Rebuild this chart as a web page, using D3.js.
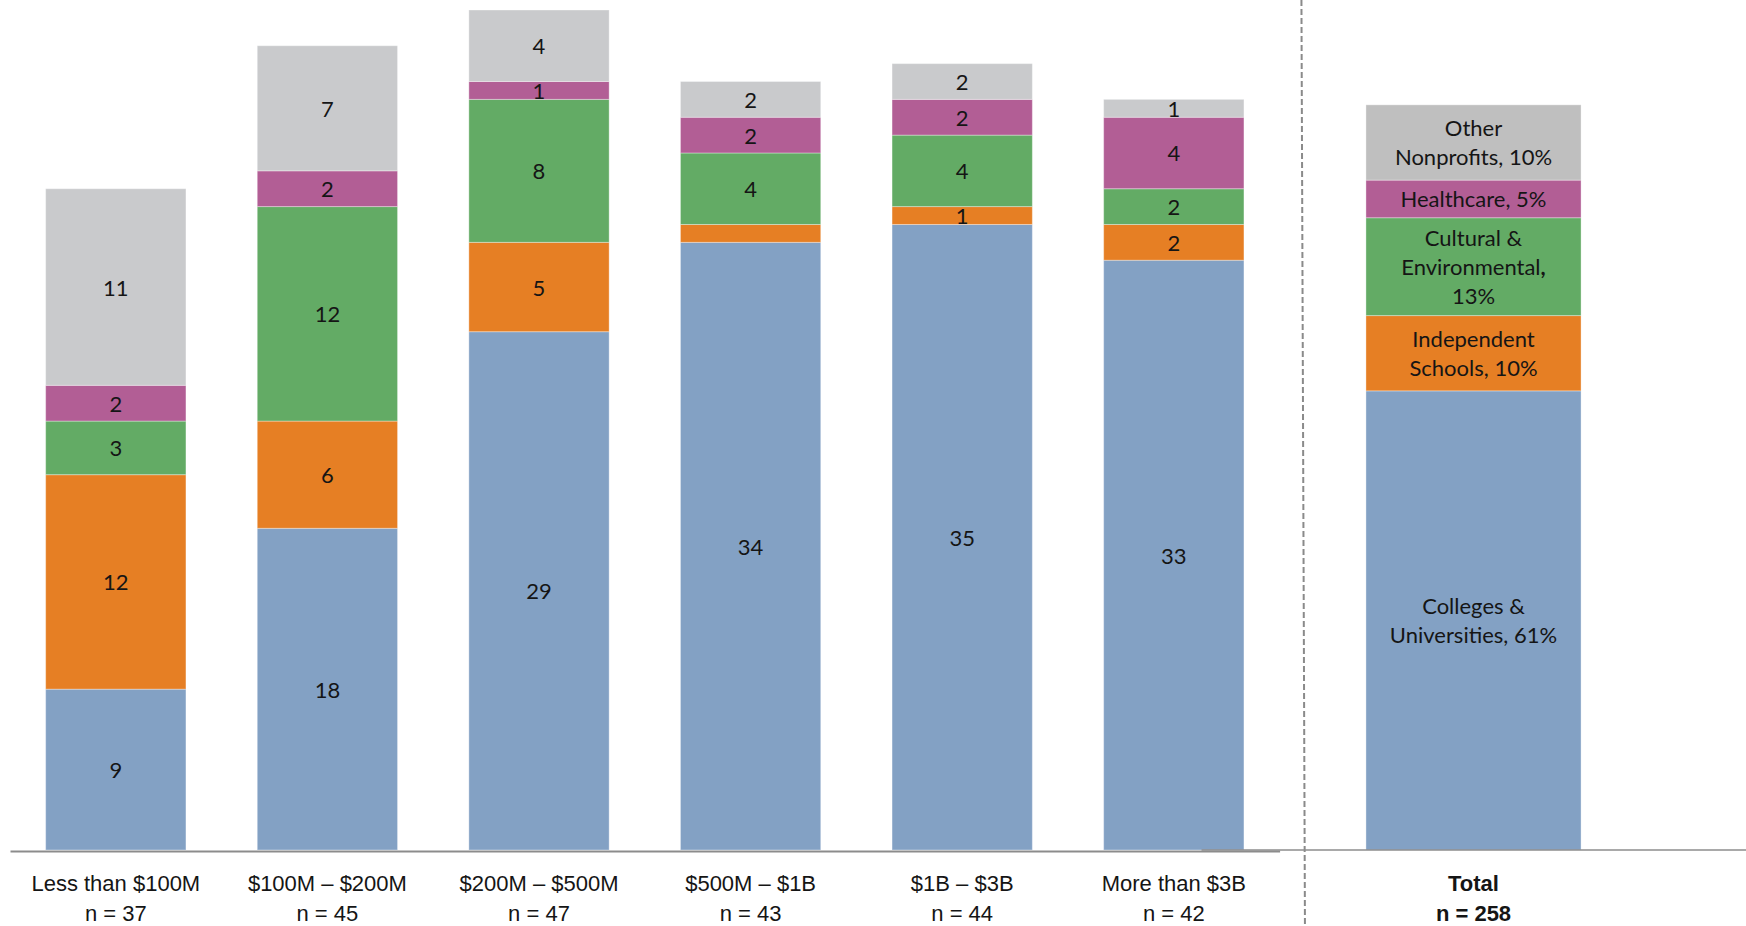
<!DOCTYPE html>
<html>
<head>
<meta charset="utf-8">
<script src="https://cdn.jsdelivr.net/npm/d3@7"></script>
<style>
  html, body { margin: 0; padding: 0; background: #fff; }
  svg { display: block; font-family: "Source Sans Pro", Lato, "Noto Sans", sans-serif; }
</style>
</head>
<body>
<svg id="chart" width="1746" height="926"></svg>
<script>
// Endowment-size groups and their sample sizes
const categories = ["Less than $100M", "$100M \u2013 $200M", "$200M \u2013 $500M", "$500M \u2013 $1B", "$1B \u2013 $3B", "More than $3B"];
const sampleSizes = [37, 45, 47, 43, 44, 42];

// Sector counts per group (stacked bottom to top)
const sectors = ["Colleges & Universities", "Independent Schools", "Cultural & Environmental", "Healthcare", "Other Nonprofits"];
const colleges    = [9, 18, 29, 34, 35, 33];
const independent = [12, 6, 5, 1, 1, 2];
const cultural    = [3, 12, 8, 4, 4, 2];
const healthcare  = [2, 2, 1, 2, 2, 4];
const other       = [11, 7, 4, 2, 2, 1];

// Overall mix, percent of all respondents
const totalLabel = "Total";
const totalN = 258;
const totalShares = [61, 10, 13, 5, 10];
// Line breaks for the sector names inside the total bar ("" puts the share on its own line)
const sectorLines = [["Colleges &", "Universities"], ["Independent", "Schools"], ["Cultural &", "Environmental", ""], ["Healthcare"], ["Other", "Nonprofits"]];

// Segments left without a value label: [sector index, group index]
const hiddenLabels = [[1, 3]];

const colors = ["#83a1c4", "#e67f24", "#63ab65", "#b25e95", "#c9cacc"];
const totalColors = ["#83a1c4", "#e67f24", "#63ab65", "#b25e95", "#bfbfbf"];

const svg = d3.select("#chart");
const W = 1746, H = 926;
const baseY = 850, topY = 10;

const series = [colleges, independent, cultural, healthcare, other];
const rows = categories.map((c, i) => {
  const r = { category: c };
  sectors.forEach((s, k) => { r[s] = series[k][i]; });
  return r;
});
const stacked = d3.stack().keys(sectors)(rows);

const x = d3.scaleBand().domain(categories).range([10, 1279.6]).paddingInner(0.337).paddingOuter(0.1685);
const y = d3.scaleLinear().domain([0, 47]).range([baseY, topY]);

const xTotal = d3.scaleBand().domain([totalLabel]).range([1201, 1746]).paddingInner(0.434).paddingOuter(0.434);
const yShare = d3.scaleLinear().domain([0, 111.6]).range([baseY, topY]);

const textColor = "#151515";
const fontSize = 22;

// Group bars
const layers = svg.append("g").selectAll("g.layer")
  .data(stacked)
  .join("g")
  .attr("class", "layer")
  .attr("fill", (d, k) => colors[k]);

layers.selectAll("rect")
  .data(d => d.map(v => Object.assign(v, { key: d.key })))
  .join("rect")
  .attr("x", d => x(d.data.category))
  .attr("width", x.bandwidth())
  .attr("y", d => y(d[1]))
  .attr("height", d => y(d[0]) - y(d[1]))
  .attr("stroke", "rgba(255,255,255,0.35)")
  .attr("stroke-width", 1);

// Value labels in the group bars
const isHidden = (k, i) => hiddenLabels.some(h => h[0] === k && h[1] === i);
stacked.forEach((layer, k) => {
  svg.append("g").selectAll("text")
    .data(layer.map((v, i) => ({ v, i })).filter(o => !isHidden(k, o.i)))
    .join("text")
    .attr("x", o => x(o.v.data.category) + x.bandwidth() / 2)
    .attr("y", o => (y(o.v[0]) + y(o.v[1])) / 2)
    .attr("text-anchor", "middle")
    .attr("dominant-baseline", "central")
    .attr("font-size", fontSize)
    .attr("fill", textColor)
    .text(o => o.v[1] - o.v[0]);
});

// Total bar (shares)
let acc = 0;
const totalSegs = totalShares.map((s, k) => {
  const seg = { k, y0: acc, y1: acc + s, share: s };
  acc += s;
  return seg;
});

const tg = svg.append("g");
tg.selectAll("rect")
  .data(totalSegs)
  .join("rect")
  .attr("x", xTotal(totalLabel))
  .attr("width", xTotal.bandwidth())
  .attr("y", d => yShare(d.y1))
  .attr("height", d => yShare(d.y0) - yShare(d.y1))
  .attr("fill", d => totalColors[d.k])
  .attr("stroke", "rgba(255,255,255,0.35)")
  .attr("stroke-width", 1);

const lineH = 29;
totalSegs.forEach(seg => {
  const names = sectorLines[seg.k].slice();
  const pct = seg.share + "%";
  let lines;
  if (names[names.length - 1] === "") {
    lines = names.slice(0, -1).map((t, j, arr) => ({ t, comma: j === arr.length - 1 }));
    lines.push({ t: pct, comma: false });
  } else {
    lines = names.map((t, j, arr) => ({ t: j === arr.length - 1 ? t + ", " + pct : t, comma: false }));
  }
  const cx = xTotal(totalLabel) + xTotal.bandwidth() / 2;
  const cy = (yShare(seg.y0) + yShare(seg.y1)) / 2;
  const t = tg.append("text")
    .attr("text-anchor", "middle")
    .attr("font-size", fontSize)
    .attr("fill", textColor);
  lines.forEach((ln, j) => {
    const ts = t.append("tspan")
      .attr("x", cx)
      .attr("y", cy + (j - (lines.length - 1) / 2) * lineH)
      .attr("dominant-baseline", "central")
      .text(ln.t);
    if (ln.comma) ts.append("tspan").attr("font-weight", "bold").text(",");
  });
});

// Separator between groups and the total
const sepX = (x(categories[categories.length - 1]) + x.bandwidth() + xTotal(totalLabel)) / 2;
svg.append("line")
  .attr("x1", sepX - 3.5).attr("x2", sepX)
  .attr("y1", 0).attr("y2", H)
  .attr("stroke", "#8a8a8a")
  .attr("stroke-width", 2)
  .attr("stroke-dasharray", "6,3");

// Axes
const axisColor = "#8c8c8c";
const gx = svg.append("g")
  .attr("transform", `translate(0,${baseY + 1})`)
  .call(d3.axisBottom(x).tickSize(0).tickSizeOuter(0).tickPadding(0));
gx.select(".domain").attr("stroke", axisColor).attr("stroke-width", 2);

const gt = svg.append("g")
  .attr("transform", `translate(0,${baseY - 0.5})`)
  .call(d3.axisBottom(xTotal).tickSize(0).tickSizeOuter(0).tickPadding(0));
gt.select(".domain").attr("stroke", axisColor).attr("stroke-width", 1.5);

function twoLineTicks(g, nFor, bold, offset) {
  g.selectAll(".tick text").each(function(d, i) {
    const t = d3.select(this)
      .attr("font-size", fontSize)
      .attr("font-family", null)
      .attr("fill", textColor)
      .attr("font-weight", bold ? "bold" : null)
      .attr("dy", null)
      .attr("y", null)
      .text(null);
    t.append("tspan").attr("x", 0).attr("y", 891 - offset).text(d);
    t.append("tspan").attr("x", 0).attr("y", 921 - offset).text("n = " + nFor(d, i));
  });
}
twoLineTicks(gx, (d, i) => sampleSizes[i], false, baseY + 1);
twoLineTicks(gt, () => totalN, true, baseY - 0.5);
</script>
</body>
</html>
